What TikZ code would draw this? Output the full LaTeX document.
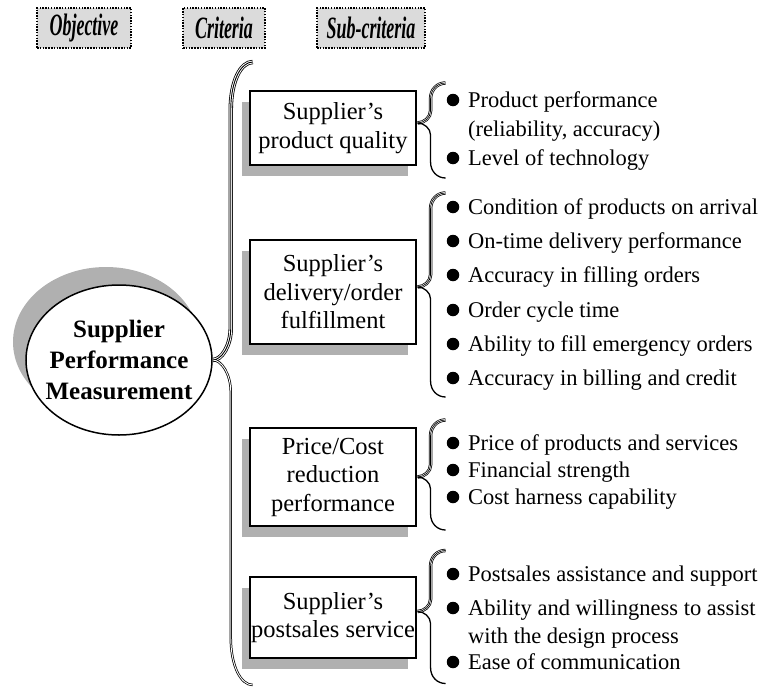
\documentclass[tikz,border=0pt]{standalone}
\usepackage{fontspec}
\setmainfont{Liberation Serif}
\usetikzlibrary{shapes.geometric,shadows,calc}
\definecolor{hdrfill}{gray}{0.86}
\definecolor{shade}{gray}{0.69}

% Curly brace pointing left, tip at a named coordinate.
% #1 upper style, #2 lower style, #3 tip, #4 stem offset, #5 end offset,
% #6 rise above tip, #7 drop below tip, #8 curl length, #9 tip length
\newcommand\drawbrace[9]{%
  \draw[#1] let \p1=(#3) in
    (\x1+#5pt,\y1+#6pt) .. controls (\x1+#4pt+0.45*#5pt-0.45*#4pt,\y1+#6pt) and (\x1+#4pt,\y1+#6pt-0.4*#8pt) .. (\x1+#4pt,\y1+#6pt-#8pt)
    -- (\x1+#4pt,\y1+#9pt) .. controls (\x1+#4pt,\y1+0.45*#9pt) and (\x1+0.5*#4pt,\y1) .. (\x1,\y1);
  \draw[#2] let \p1=(#3) in
    (\x1,\y1) .. controls (\x1+0.5*#4pt,\y1) and (\x1+#4pt,\y1-0.45*#9pt) .. (\x1+#4pt,\y1-#9pt)
    -- (\x1+#4pt,\y1-#7pt+#8pt) .. controls (\x1+#4pt,\y1-#7pt+0.4*#8pt) and (\x1+#4pt+0.45*#5pt-0.45*#4pt,\y1-#7pt) .. (\x1+#5pt,\y1-#7pt);
}

\begin{document}
\begin{tikzpicture}[x=1pt,y=-1pt,
  header/.style={draw=black, fill=hdrfill, line width=1.5pt,
    dash pattern=on 1.5pt off 1.3pt, minimum height=40pt, inner sep=0pt,
    font=\fontsize{31}{34}\selectfont\bfseries\itshape},
  critbox/.style={draw=black, fill=white, line width=1.1pt, minimum width=166pt,
    inner sep=0pt, align=center, font=\fontsize{24.5}{28.5}\selectfont,
    drop shadow={shadow xshift=-8pt, shadow yshift=-11pt, fill=shade, opacity=1}},
  goal/.style={ellipse, draw=black, fill=white, line width=1.5pt,
    minimum width=186pt, minimum height=150pt, inner xsep=-8pt, inner ysep=0pt,
    align=center, font=\fontsize{25}{31}\selectfont\bfseries,
    drop shadow={shadow xshift=-13pt, shadow yshift=18pt, fill=shade, opacity=1}},
  dot/.style={circle, fill=black, minimum size=12.5pt, inner sep=0pt},
  item/.style={anchor=base west, inner sep=0pt, font=\fontsize{22.5}{28}\selectfont},
  rib/.style={line width=0.7pt, preaction={draw=black, line width=3.4pt},
    preaction={draw=white, line width=1.9pt}},
  ribwide/.style={line width=0.9pt, preaction={draw=black, line width=4.4pt},
    preaction={draw=white, line width=2.8pt}},
  stem/.style={line width=1.3pt},
  stemdouble/.style={double, double distance=0.9pt, line width=0.75pt}
]
\useasboundingbox (0,0) rectangle (763,688);

% column headers
\node[header, minimum width=94pt] (hobj) at (84,28) {\scalebox{0.58}[1]{Objective}};
\node[header, minimum width=82pt] (hcrit) at (224,28) {\scalebox{0.58}[1]{Criteria}};
\node[header, minimum width=108pt] (hsub) at (371,28) {\scalebox{0.58}[1]{Sub-criteria}};

% objective
\node[goal] (goal) at (119,360) {Supplier\\Performance\\Measurement};

% criteria
\node[critbox, minimum height=74pt] (b1) at (333,128) {Supplier's\\product quality};
\node[critbox, minimum height=104pt] (b2) at (333,292) {Supplier's\\delivery/order\\fulfillment};
\node[critbox, minimum height=98pt] (b3) at (333,477) {Price/Cost\\reduction\\performance};
\node[critbox, minimum height=81pt] (b4) at (333,617.5) {Supplier's\\postsales service};

% braces
\drawbrace{ribwide}{stemdouble}{goal.east}{18}{40}{298}{325}{48}{32}
\coordinate (t1) at ($(b1.east)+(1,-5)$);
\coordinate (t2) at ($(b2.east)+(1,-5)$);
\coordinate (t3) at ($(b3.east)+(1,0)$);
\coordinate (t4) at ($(b4.east)+(1,-6)$);
\drawbrace{rib}{stem}{t1}{13}{28}{40}{55}{16}{12}
\drawbrace{rib}{stem}{t2}{13}{28}{94}{110}{16}{12}
\drawbrace{rib}{stem}{t3}{13}{28}{57}{53}{16}{12}
\drawbrace{rib}{stem}{t4}{13}{28}{61}{72}{16}{12}

% sub-criteria: product quality
\node[dot] (d11) at (453,100) {};
\node[item] (i11) at (468,107) {Product performance};
\node[item] (i11b) at (468,136) {(reliability, accuracy)};
\node[dot] (d12) at (453,158) {};
\node[item] (i12) at (468,165) {Level of technology};

% sub-criteria: delivery/order fulfillment
\node[dot] (d21) at (453,207) {};
\node[item] (i21) at (468,214) {Condition of products on arrival};
\node[dot] (d22) at (453,241) {};
\node[item] (i22) at (468,248) {On-time delivery performance};
\node[dot] (d23) at (453,275) {};
\node[item] (i23) at (468,282) {Accuracy in filling orders};
\node[dot] (d24) at (453,310) {};
\node[item] (i24) at (468,317) {Order cycle time};
\node[dot] (d25) at (453,344) {};
\node[item] (i25) at (468,351) {Ability to fill emergency orders};
\node[dot] (d26) at (453,378) {};
\node[item] (i26) at (468,385) {Accuracy in billing and credit};

% sub-criteria: price/cost
\node[dot] (d31) at (453,443) {};
\node[item] (i31) at (468,450) {Price of products and services};
\node[dot] (d32) at (453,470) {};
\node[item] (i32) at (468,477) {Financial strength};
\node[dot] (d33) at (453,497) {};
\node[item] (i33) at (468,504) {Cost harness capability};

% sub-criteria: postsales service
\node[dot] (d41) at (453,574) {};
\node[item] (i41) at (468,581) {Postsales assistance and support};
\node[dot] (d42) at (453,608) {};
\node[item] (i42) at (468,615) {Ability and willingness to assist};
\node[item] (i42b) at (468,643) {with the design process};
\node[dot] (d43) at (453,662) {};
\node[item] (i43) at (468,669) {Ease of communication};
\end{tikzpicture}
\end{document}
